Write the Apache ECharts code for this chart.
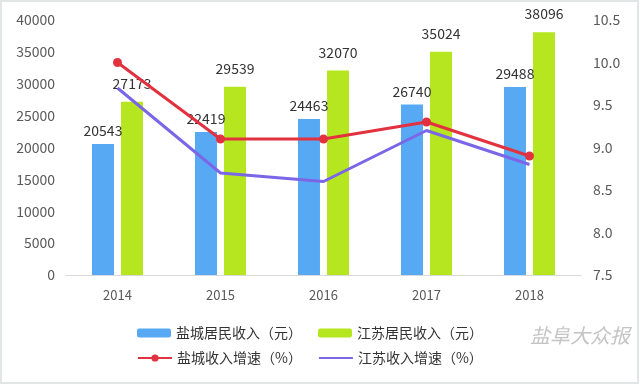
<!DOCTYPE html>
<html><head><meta charset="utf-8">
<script src="https://cdn.jsdelivr.net/npm/echarts@6/dist/echarts.min.js"></script>
<style>html,body{margin:0;padding:0;background:#fff}#c{width:640px;height:385px}</style>
</head><body><div id="c"></div>
<script>
const years = ['2014','2015','2016','2017','2018'];
const ycIncome = [20543, 22419, 24463, 26740, 29488];
const jsIncome = [27173, 29539, 32070, 35024, 38096];
const ycGrowth = [10.0, 9.1, 9.1, 9.3, 8.9];
const jsGrowth = [9.7, 8.7, 8.6, 9.2, 8.8];
const leftTicks = [0, 40000, 5000];
const rightTicks = [7.5, 10.5, 0.5];

const chart = echarts.init(document.getElementById('c'));
const font = '"Noto Sans CJK SC", "Noto Sans", sans-serif';
chart.setOption({
  animation: false,
  textStyle: {fontFamily: font},
  grid: {left: 66, right: 59, top: 20, bottom: 110},
  legend: [{
    top: 321, left: 132, itemWidth: 34, itemHeight: 9, itemGap: 16,
    textStyle: {fontSize: 14, color: '#333', fontFamily: font},
    data: ['盐城居民收入（元）', '江苏居民收入（元）']
  }, {
    top: 346, left: 132, itemWidth: 34, itemHeight: 9, itemGap: 16,
    textStyle: {fontSize: 14, color: '#333', fontFamily: font},
    data: ['盐城收入增速（%）', {name: '江苏收入增速（%）', itemStyle: {color: 'transparent', borderWidth: 0}}]
  }],
  graphic: [{
    type: 'text', left: 530, top: 325,
    style: {text: '盐阜大众报', fontSize: 20, fontStyle: 'italic', fill: '#c4c4c4', fontFamily: font}
  }, {
    type: 'rect', shape: {x: 1, y: 1, width: 637, height: 382},
    style: {fill: 'none', stroke: '#e3e6e6', lineWidth: 2}, silent: true
  }],
  xAxis: {
    type: 'category', data: years,
    axisLine: {lineStyle: {color: '#d9d9d9'}},
    axisTick: {show: false},
    axisLabel: {color: '#595959', fontSize: 13, margin: 14}
  },
  yAxis: [{
    type: 'value', min: leftTicks[0], max: leftTicks[1], interval: leftTicks[2],
    splitLine: {show: false}, axisLine: {show: false}, axisTick: {show: false},
    axisLabel: {color: '#595959', fontSize: 14, margin: 11, formatter: v => String(v)}
  }, {
    type: 'value', min: rightTicks[0], max: rightTicks[1], interval: rightTicks[2],
    splitLine: {show: false}, axisLine: {show: false}, axisTick: {show: false},
    axisLabel: {color: '#595959', fontSize: 14, margin: 12, formatter: v => v.toFixed(1)}
  }],
  series: [{
    name: '盐城居民收入（元）', type: 'bar', data: ycIncome, barWidth: 22, barGap: '32%',
    itemStyle: {color: '#58a9f3'},
    label: {show: true, position: 'top', color: '#333', fontSize: 14, distance: 6}
  }, {
    name: '江苏居民收入（元）', type: 'bar', data: jsIncome, barWidth: 22,
    itemStyle: {color: '#b6e61f'},
    label: {show: true, position: 'top', color: '#333', fontSize: 14, distance: 11}
  }, {
    name: '盐城收入增速（%）', type: 'line', yAxisIndex: 1, data: ycGrowth,
    symbol: 'circle', symbolSize: 9,
    lineStyle: {color: '#e2313f', width: 3},
    itemStyle: {color: '#e2313f'}
  }, {
    name: '江苏收入增速（%）', type: 'line', yAxisIndex: 1, data: jsGrowth,
    symbol: 'none',
    lineStyle: {color: '#7b66e8', width: 3},
    itemStyle: {color: '#7b66e8'}
  }]
});
</script></body></html>
